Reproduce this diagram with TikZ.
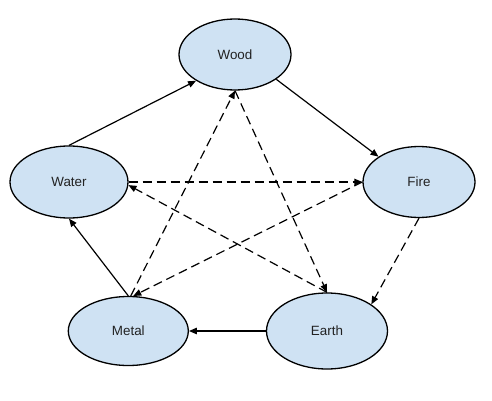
\documentclass[tikz,border=0pt]{standalone}
\usepackage{fontspec}
\setmainfont{Liberation Sans}
\usetikzlibrary{shapes.geometric,arrows.meta}
\definecolor{elemfill}{HTML}{CFE2F3}
\definecolor{textcol}{HTML}{222222}
\tikzset{
  elem/.style={ellipse,draw=black,line width=1.3pt,fill=elemfill,inner sep=0pt,
    text=textcol,font=\fontsize{13.4}{16}\selectfont},
  gen/.style={line width=1.2pt,-{Triangle[length=8pt,width=6.5pt]}},
  ctrl/.style={gen,dash pattern=on 9pt off 5pt}
}
\begin{document}
\begin{tikzpicture}[x=1pt,y=-1pt]
\useasboundingbox (0,0) rectangle (492,401);
\fill[white] (0,0) rectangle (492,401);
\node[elem,minimum width=112pt,minimum height=71pt] (wood) at (235,54.5) {Wood};
\node[elem,minimum width=118pt,minimum height=72pt] (water) at (69,182) {Water};
\node[elem,minimum width=112pt,minimum height=71pt] (fire) at (419,182) {Fire};
\node[elem,minimum width=120pt,minimum height=69pt] (metal) at (128.3,331) {Metal};
\node[elem,minimum width=121pt,minimum height=76pt] (earth) at (327,331) {Earth};
% generating cycle
\draw[gen] (water.north) -- (wood.214);
\draw[gen] (wood.329) -- (fire.148);
\draw[ctrl] (fire.south) -- (earth.31);
\draw[gen] (earth.west) -- (metal.east);
\draw[gen] (metal.north) -- (water.south);
% controlling cycle
\draw[ctrl] (metal.86) -- (wood.south);
\draw[ctrl] (wood.south) -- (earth.north);
\draw[ctrl] (fire.west) -- (metal.82);
\draw[ctrl] (water.east) -- (fire.west);
\draw[ctrl] (earth.north) -- (water.-3);
\end{tikzpicture}
\end{document}
